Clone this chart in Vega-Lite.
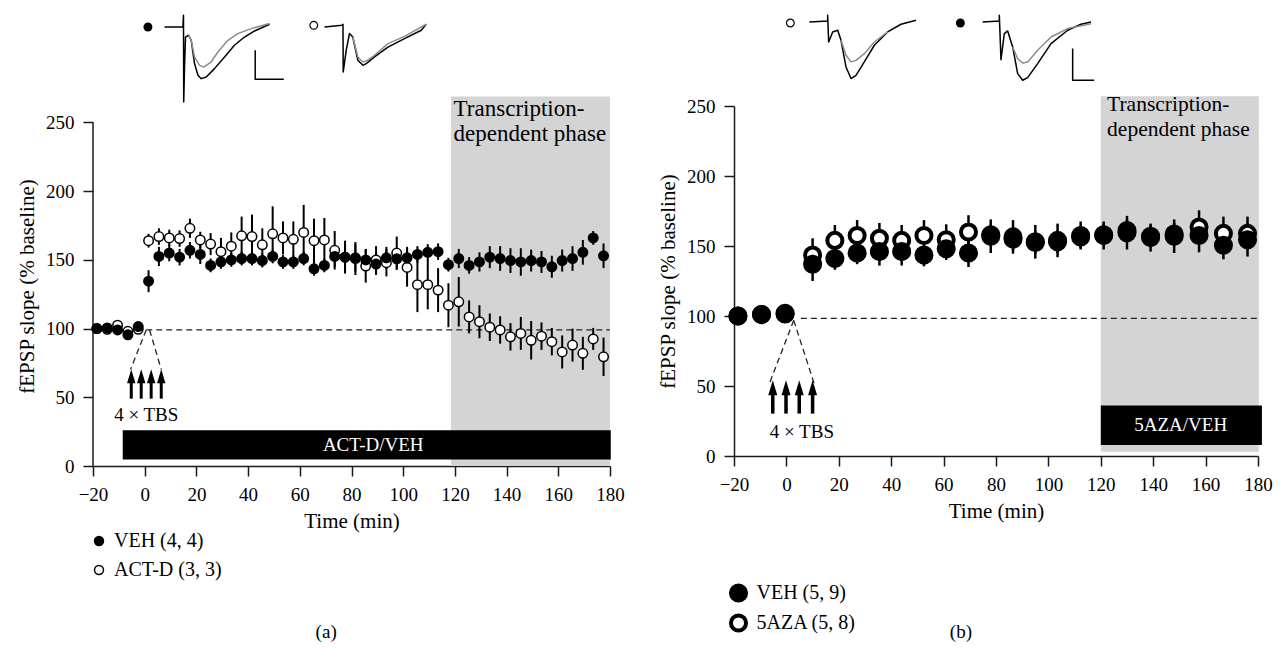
{
"$schema":"https://vega.github.io/schema/vega-lite/v6.json",
"background":"white",
"padding":{"left":16,"top":14,"right":0,"bottom":0},
"spacing":32,
"resolve":{"scale":{"fill":"independent"},"legend":{"fill":"independent"}},
"config":{
 "font":"Liberation Serif",
 "view":{"stroke":null},
 "axis":{"grid":false,"domainColor":"#1a1a1a","domainWidth":1.5,"tickColor":"#1a1a1a","tickWidth":1.5,"tickSize":10,"labelFont":"Liberation Serif","labelFontSize":19,"labelColor":"black","labelPadding":9,"labelFlush":false,"titleFont":"Liberation Serif","titleFontSize":21,"titleFontWeight":"normal","titleColor":"black"},
 "axisX":{"titlePadding":6,"tickCount":10},
 "axisY":{"titlePadding":8,"tickCount":5},
 "legend":{"labelFont":"Liberation Serif","labelFontSize":20,"labelColor":"black","symbolStrokeColor":"black","padding":0}
},
"datasets":{
 "a":[
  {"t":-18.5,"v":100,"e":2,"g":"ACT-D (3, 3)"},{"t":-14.5,"v":99.5,"e":2,"g":"ACT-D (3, 3)"},{"t":-10.5,"v":102.5,"e":2,"g":"ACT-D (3, 3)"},{"t":-6.5,"v":98,"e":2,"g":"ACT-D (3, 3)"},{"t":-2.5,"v":99.5,"e":2,"g":"ACT-D (3, 3)"},
  {"t":1.5,"v":164,"e":5,"g":"ACT-D (3, 3)"},{"t":5.5,"v":167,"e":6,"g":"ACT-D (3, 3)"},{"t":9.5,"v":166,"e":6,"g":"ACT-D (3, 3)"},{"t":13.5,"v":165.5,"e":6,"g":"ACT-D (3, 3)"},{"t":17.5,"v":173,"e":7,"g":"ACT-D (3, 3)"},{"t":21.5,"v":164.5,"e":6,"g":"ACT-D (3, 3)"},{"t":25.5,"v":161.5,"e":8,"g":"ACT-D (3, 3)"},{"t":29.5,"v":156,"e":10,"g":"ACT-D (3, 3)"},{"t":33.5,"v":160,"e":10,"g":"ACT-D (3, 3)"},{"t":37.5,"v":167.5,"e":14,"g":"ACT-D (3, 3)"},{"t":41.5,"v":167,"e":16,"g":"ACT-D (3, 3)"},{"t":45.5,"v":161,"e":12,"g":"ACT-D (3, 3)"},{"t":49.5,"v":169,"e":20,"g":"ACT-D (3, 3)"},{"t":53.5,"v":166,"e":12,"g":"ACT-D (3, 3)"},{"t":57.5,"v":165,"e":13,"g":"ACT-D (3, 3)"},{"t":61.5,"v":170,"e":20,"g":"ACT-D (3, 3)"},{"t":65.5,"v":164,"e":16,"g":"ACT-D (3, 3)"},{"t":69.5,"v":164.5,"e":16,"g":"ACT-D (3, 3)"},{"t":73.5,"v":157,"e":14,"g":"ACT-D (3, 3)"},{"t":77.5,"v":152,"e":12,"g":"ACT-D (3, 3)"},{"t":81.5,"v":151,"e":12,"g":"ACT-D (3, 3)"},{"t":85.5,"v":145.5,"e":12,"g":"ACT-D (3, 3)"},{"t":89.5,"v":150,"e":10,"g":"ACT-D (3, 3)"},{"t":93.5,"v":148,"e":10,"g":"ACT-D (3, 3)"},{"t":97.5,"v":155,"e":12,"g":"ACT-D (3, 3)"},{"t":101.5,"v":144.5,"e":14,"g":"ACT-D (3, 3)"},{"t":105.5,"v":132,"e":20,"g":"ACT-D (3, 3)"},{"t":109.5,"v":132,"e":18,"g":"ACT-D (3, 3)"},{"t":113.5,"v":128,"e":16,"g":"ACT-D (3, 3)"},{"t":117.5,"v":117,"e":16,"g":"ACT-D (3, 3)"},{"t":121.5,"v":119.5,"e":18,"g":"ACT-D (3, 3)"},{"t":125.5,"v":108.5,"e":12,"g":"ACT-D (3, 3)"},{"t":129.5,"v":105,"e":12,"g":"ACT-D (3, 3)"},{"t":133.5,"v":101,"e":10,"g":"ACT-D (3, 3)"},{"t":137.5,"v":99,"e":10,"g":"ACT-D (3, 3)"},{"t":141.5,"v":94,"e":10,"g":"ACT-D (3, 3)"},{"t":145.5,"v":96.5,"e":12,"g":"ACT-D (3, 3)"},{"t":149.5,"v":91.5,"e":14,"g":"ACT-D (3, 3)"},{"t":153.5,"v":94.5,"e":10,"g":"ACT-D (3, 3)"},{"t":157.5,"v":90.5,"e":10,"g":"ACT-D (3, 3)"},{"t":161.5,"v":83,"e":12,"g":"ACT-D (3, 3)"},{"t":165.5,"v":88,"e":12,"g":"ACT-D (3, 3)"},{"t":169.5,"v":82,"e":12,"g":"ACT-D (3, 3)"},{"t":173.5,"v":92.5,"e":8,"g":"ACT-D (3, 3)"},{"t":177.5,"v":79.5,"e":14,"g":"ACT-D (3, 3)"},
  {"t":-18.5,"v":100,"e":2,"g":"VEH (4, 4)"},{"t":-14.5,"v":100.5,"e":2,"g":"VEH (4, 4)"},{"t":-10.5,"v":99,"e":2,"g":"VEH (4, 4)"},{"t":-6.5,"v":95.5,"e":2.5,"g":"VEH (4, 4)"},{"t":-2.5,"v":101.5,"e":2.5,"g":"VEH (4, 4)"},
  {"t":1.5,"v":134.5,"e":8,"g":"VEH (4, 4)"},{"t":5.5,"v":152.5,"e":7,"g":"VEH (4, 4)"},{"t":9.5,"v":155,"e":6,"g":"VEH (4, 4)"},{"t":13.5,"v":152,"e":6,"g":"VEH (4, 4)"},{"t":17.5,"v":157,"e":6,"g":"VEH (4, 4)"},{"t":21.5,"v":154,"e":7,"g":"VEH (4, 4)"},{"t":25.5,"v":146,"e":5,"g":"VEH (4, 4)"},{"t":29.5,"v":148.5,"e":5,"g":"VEH (4, 4)"},{"t":33.5,"v":150,"e":5,"g":"VEH (4, 4)"},{"t":37.5,"v":151,"e":5,"g":"VEH (4, 4)"},{"t":41.5,"v":151,"e":5,"g":"VEH (4, 4)"},{"t":45.5,"v":149.5,"e":5,"g":"VEH (4, 4)"},{"t":49.5,"v":152.5,"e":5,"g":"VEH (4, 4)"},{"t":53.5,"v":148.5,"e":5,"g":"VEH (4, 4)"},{"t":57.5,"v":148.5,"e":5,"g":"VEH (4, 4)"},{"t":61.5,"v":151,"e":5,"g":"VEH (4, 4)"},{"t":65.5,"v":143.5,"e":5,"g":"VEH (4, 4)"},{"t":69.5,"v":146,"e":5,"g":"VEH (4, 4)"},{"t":73.5,"v":152.5,"e":8,"g":"VEH (4, 4)"},{"t":77.5,"v":152,"e":10,"g":"VEH (4, 4)"},{"t":81.5,"v":151.5,"e":10,"g":"VEH (4, 4)"},{"t":85.5,"v":150,"e":8,"g":"VEH (4, 4)"},{"t":89.5,"v":147,"e":8,"g":"VEH (4, 4)"},{"t":93.5,"v":151.5,"e":8,"g":"VEH (4, 4)"},{"t":97.5,"v":150.8,"e":8,"g":"VEH (4, 4)"},{"t":101.5,"v":151.5,"e":8,"g":"VEH (4, 4)"},{"t":105.5,"v":154,"e":6,"g":"VEH (4, 4)"},{"t":109.5,"v":155.5,"e":6,"g":"VEH (4, 4)"},{"t":113.5,"v":156,"e":6,"g":"VEH (4, 4)"},{"t":117.5,"v":146.5,"e":5,"g":"VEH (4, 4)"},{"t":121.5,"v":151,"e":7,"g":"VEH (4, 4)"},{"t":125.5,"v":146,"e":6,"g":"VEH (4, 4)"},{"t":129.5,"v":148.5,"e":7,"g":"VEH (4, 4)"},{"t":133.5,"v":152,"e":8,"g":"VEH (4, 4)"},{"t":137.5,"v":151,"e":9,"g":"VEH (4, 4)"},{"t":141.5,"v":149.5,"e":9,"g":"VEH (4, 4)"},{"t":145.5,"v":148.5,"e":10,"g":"VEH (4, 4)"},{"t":149.5,"v":149.5,"e":8,"g":"VEH (4, 4)"},{"t":153.5,"v":148.5,"e":8,"g":"VEH (4, 4)"},{"t":157.5,"v":145,"e":8,"g":"VEH (4, 4)"},{"t":161.5,"v":149.5,"e":8,"g":"VEH (4, 4)"},{"t":165.5,"v":151,"e":9,"g":"VEH (4, 4)"},{"t":169.5,"v":155.5,"e":9,"g":"VEH (4, 4)"},{"t":173.5,"v":166,"e":5,"g":"VEH (4, 4)"},{"t":177.5,"v":153,"e":9,"g":"VEH (4, 4)"}
 ],
 "b":[
  {"t":-18.5,"v":100,"e":4,"g":"5AZA (5, 8)"},{"t":-9.5,"v":101,"e":4,"g":"5AZA (5, 8)"},{"t":-0.5,"v":101.5,"e":4,"g":"5AZA (5, 8)"},
  {"t":10,"v":143.5,"e":12,"g":"5AZA (5, 8)"},{"t":18.5,"v":154,"e":11,"g":"5AZA (5, 8)"},{"t":27,"v":157.5,"e":11,"g":"5AZA (5, 8)"},{"t":35.5,"v":155.5,"e":11,"g":"5AZA (5, 8)"},{"t":44,"v":154,"e":11,"g":"5AZA (5, 8)"},{"t":52.5,"v":157.5,"e":11,"g":"5AZA (5, 8)"},{"t":61,"v":154.5,"e":11,"g":"5AZA (5, 8)"},{"t":69.5,"v":160,"e":12,"g":"5AZA (5, 8)"},{"t":78,"v":158,"e":8,"g":"5AZA (5, 8)"},{"t":86.5,"v":155,"e":8,"g":"5AZA (5, 8)"},{"t":95,"v":152.5,"e":8,"g":"5AZA (5, 8)"},{"t":103.5,"v":153,"e":8,"g":"5AZA (5, 8)"},{"t":112.3,"v":156.5,"e":8,"g":"5AZA (5, 8)"},{"t":121.1,"v":158,"e":8,"g":"5AZA (5, 8)"},{"t":130,"v":161,"e":8,"g":"5AZA (5, 8)"},{"t":139,"v":157,"e":8,"g":"5AZA (5, 8)"},{"t":148,"v":158.5,"e":8,"g":"5AZA (5, 8)"},{"t":157.5,"v":163.5,"e":12,"g":"5AZA (5, 8)"},{"t":166.8,"v":159,"e":12,"g":"5AZA (5, 8)"},{"t":176,"v":159,"e":12,"g":"5AZA (5, 8)"},
  {"t":-18.5,"v":100,"e":4,"g":"VEH (5, 9)"},{"t":-9.5,"v":101,"e":4,"g":"VEH (5, 9)"},{"t":-0.5,"v":102,"e":4,"g":"VEH (5, 9)"},
  {"t":10,"v":137,"e":12,"g":"VEH (5, 9)"},{"t":18.5,"v":141,"e":8,"g":"VEH (5, 9)"},{"t":27,"v":145,"e":8,"g":"VEH (5, 9)"},{"t":35.5,"v":146,"e":10,"g":"VEH (5, 9)"},{"t":44,"v":146,"e":10,"g":"VEH (5, 9)"},{"t":52.5,"v":143.5,"e":8,"g":"VEH (5, 9)"},{"t":61,"v":148,"e":8,"g":"VEH (5, 9)"},{"t":69.5,"v":145,"e":10,"g":"VEH (5, 9)"},{"t":78,"v":157,"e":12,"g":"VEH (5, 9)"},{"t":86.5,"v":156.5,"e":12,"g":"VEH (5, 9)"},{"t":95,"v":153,"e":12,"g":"VEH (5, 9)"},{"t":103.5,"v":154,"e":12,"g":"VEH (5, 9)"},{"t":112.3,"v":157.5,"e":10,"g":"VEH (5, 9)"},{"t":121.1,"v":157.5,"e":10,"g":"VEH (5, 9)"},{"t":130,"v":159.5,"e":12,"g":"VEH (5, 9)"},{"t":139,"v":156,"e":10,"g":"VEH (5, 9)"},{"t":148,"v":157,"e":12,"g":"VEH (5, 9)"},{"t":157.5,"v":157.5,"e":12,"g":"VEH (5, 9)"},{"t":166.8,"v":150.5,"e":10,"g":"VEH (5, 9)"},{"t":176,"v":154.5,"e":12,"g":"VEH (5, 9)"}
 ],
 "trA_k":[
  {"s":"v","i":0,"x":7.67,"y":319.5},{"s":"v","i":1,"x":14.77,"y":319.5},{"s":"v","i":2,"x":15.0,"y":328.0},{"s":"v","i":3,"x":15.1,"y":264.9},{"s":"v","i":4,"x":15.4,"y":290.4},{"s":"v","i":5,"x":15.8,"y":312.2},{"s":"v","i":6,"x":16.95,"y":313.5},{"s":"v","i":7,"x":18.0,"y":309.8},{"s":"v","i":8,"x":19.27,"y":292.9},{"s":"v","i":9,"x":20.6,"y":284.4},{"s":"v","i":10,"x":21.86,"y":281.9},{"s":"v","i":11,"x":23.8,"y":283.1},{"s":"v","i":12,"x":27.0,"y":289.2},{"s":"v","i":13,"x":30.9,"y":297.7},{"s":"v","i":14,"x":34.7,"y":306.2},{"s":"v","i":15,"x":38.6,"y":312.2},{"s":"v","i":16,"x":42.5,"y":316.6},{"s":"v","i":17,"x":48.3,"y":321.5},
  {"s":"a","i":0,"x":69.56,"y":319.5},{"s":"a","i":1,"x":76.3,"y":320.7},{"s":"a","i":2,"x":76.7,"y":321.5},{"s":"a","i":3,"x":76.8,"y":286.8},{"s":"a","i":4,"x":77.95,"y":302.5},{"s":"a","i":5,"x":79.2,"y":314.7},{"s":"a","i":6,"x":80.5,"y":312.2},{"s":"a","i":7,"x":82.46,"y":295.3},{"s":"a","i":8,"x":84.4,"y":291.6},{"s":"a","i":9,"x":85.7,"y":292.9},{"s":"a","i":10,"x":88.9,"y":297.7},{"s":"a","i":11,"x":94.1,"y":304.9},{"s":"a","i":12,"x":100.5,"y":311.0},{"s":"a","i":13,"x":107.0,"y":317.1},{"s":"a","i":14,"x":108.9,"y":321.5},
  {"s":"sb","i":0,"x":42.75,"y":302.5},{"s":"sb","i":1,"x":42.75,"y":281.4},{"s":"sb","i":2,"x":53.8,"y":281.4}
 ],
 "trA_g":[
  {"s":"v","i":0,"x":16.95,"y":313.5},{"s":"v","i":1,"x":18.0,"y":309.8},{"s":"v","i":2,"x":19.27,"y":297.7},{"s":"v","i":3,"x":21.2,"y":291.6},{"s":"v","i":4,"x":22.9,"y":290.4},{"s":"v","i":5,"x":25.7,"y":294.0},{"s":"v","i":6,"x":28.3,"y":301.3},{"s":"v","i":7,"x":32.2,"y":309.8},{"s":"v","i":8,"x":36.0,"y":314.7},{"s":"v","i":9,"x":41.2,"y":318.3},{"s":"v","i":10,"x":48.3,"y":322.0},
  {"s":"a","i":0,"x":80.5,"y":312.2},{"s":"a","i":1,"x":82.46,"y":297.7},{"s":"a","i":2,"x":84.4,"y":294.0},{"s":"a","i":3,"x":85.7,"y":294.7},{"s":"a","i":4,"x":88.9,"y":298.9},{"s":"a","i":5,"x":94.1,"y":307.4},{"s":"a","i":6,"x":100.5,"y":312.7},{"s":"a","i":7,"x":108.9,"y":321.5}
 ],
 "trB_k":[
  {"s":"z","i":0,"x":8.75,"y":310.0},{"s":"z","i":1,"x":15.75,"y":310.7},{"s":"z","i":2,"x":15.75,"y":314.8},{"s":"z","i":3,"x":16.13,"y":295.7},{"s":"z","i":4,"x":17.66,"y":302.9},{"s":"z","i":5,"x":19.57,"y":304.1},{"s":"z","i":6,"x":20.84,"y":296.9},{"s":"z","i":7,"x":22.75,"y":277.9},{"s":"z","i":8,"x":24.66,"y":269.6},{"s":"z","i":9,"x":26.56,"y":271.9},{"s":"z","i":10,"x":29.75,"y":281.5},{"s":"z","i":11,"x":33.56,"y":293.4},{"s":"z","i":12,"x":38.65,"y":302.9},{"s":"z","i":13,"x":43.74,"y":308.4},{"s":"z","i":14,"x":49.47,"y":311.2},
  {"s":"v","i":0,"x":74.9,"y":310.0},{"s":"v","i":1,"x":81.27,"y":310.7},{"s":"v","i":2,"x":81.27,"y":314.8},{"s":"v","i":3,"x":81.9,"y":283.1},{"s":"v","i":4,"x":83.18,"y":301.7},{"s":"v","i":5,"x":84.45,"y":303.6},{"s":"v","i":6,"x":86.36,"y":292.2},{"s":"v","i":7,"x":88.27,"y":273.1},{"s":"v","i":8,"x":90.18,"y":268.4},{"s":"v","i":9,"x":92.09,"y":270.3},{"s":"v","i":10,"x":95.9,"y":280.3},{"s":"v","i":11,"x":101.0,"y":294.6},{"s":"v","i":12,"x":107.35,"y":304.1},{"s":"v","i":13,"x":112.4,"y":308.4},{"s":"v","i":14,"x":116.26,"y":310.0},
  {"s":"sb","i":0,"x":109.26,"y":291.0},{"s":"sb","i":1,"x":109.26,"y":268.4},{"s":"sb","i":2,"x":117.5,"y":268.4}
 ],
 "trB_g":[
  {"s":"z","i":0,"x":20.84,"y":296.9},{"s":"z","i":1,"x":22.75,"y":286.2},{"s":"z","i":2,"x":24.66,"y":281.5},{"s":"z","i":3,"x":26.56,"y":282.6},{"s":"z","i":4,"x":29.75,"y":287.4},{"s":"z","i":5,"x":33.56,"y":295.7},{"s":"z","i":6,"x":38.65,"y":302.9},
  {"s":"v","i":0,"x":86.36,"y":292.2},{"s":"v","i":1,"x":88.27,"y":283.8},{"s":"v","i":2,"x":90.18,"y":280.7},{"s":"v","i":3,"x":92.09,"y":281.5},{"s":"v","i":4,"x":95.9,"y":289.8},{"s":"v","i":5,"x":101.0,"y":299.3},{"s":"v","i":6,"x":107.35,"y":305.3},{"s":"v","i":7,"x":116.26,"y":308.8}
 ]
},
"hconcat":[
 {
  "width":517,"height":360,
  "layer":[
   {"data":{"values":[{"x1":118.5,"x2":180,"y1":0,"y2":269}]},"mark":{"type":"rect","color":"#d4d4d4"},
    "encoding":{"x":{"field":"x1","type":"quantitative","title":"Time (min)","scale":{"domain":[-20,180],"nice":false,"zero":false}},"x2":{"field":"x2"},
     "y":{"field":"y1","type":"quantitative","title":"fEPSP slope (% baseline)","scale":{"domain":[0,262],"nice":false,"zero":false},"axis":{"tickCount":6,"domain":false}},"y2":{"field":"y2"}}},
   {"data":{"values":[{"x":-20,"y1":0,"y2":250}]},"mark":{"type":"rule","color":"#1a1a1a","strokeWidth":1.5},
    "encoding":{"x":{"field":"x","type":"quantitative","title":"Time (min)","scale":{"domain":[-20,180],"nice":false,"zero":false}},"y":{"field":"y1","type":"quantitative","title":"fEPSP slope (% baseline)","scale":{"domain":[0,262],"nice":false,"zero":false},"axis":{"tickCount":6,"domain":false}},"y2":{"field":"y2"}}},
   {"data":{"values":[{"x1":-8.5,"x2":180.3,"y1":4.7,"y2":26}]},"mark":{"type":"rect","color":"black"},
    "encoding":{"x":{"field":"x1","type":"quantitative","title":"Time (min)","scale":{"domain":[-20,180],"nice":false,"zero":false}},"x2":{"field":"x2"},"y":{"field":"y1","type":"quantitative","title":"fEPSP slope (% baseline)","scale":{"domain":[0,262],"nice":false,"zero":false},"axis":{"tickCount":6,"domain":false}},"y2":{"field":"y2"}}},
   {"data":{"values":[{"x1":0.6,"x2":180,"y":99},{"x1":0.6,"x2":-5.5,"y":99,"y2":70.2},{"x1":1.9,"x2":6.4,"y":99,"y2":70.2}]},"mark":{"type":"rule","strokeDash":[6,4],"strokeWidth":1.3,"color":"#222"},
    "encoding":{"x":{"field":"x1","type":"quantitative","title":"Time (min)","scale":{"domain":[-20,180],"nice":false,"zero":false}},"x2":{"field":"x2"},"y":{"field":"y","type":"quantitative","title":"fEPSP slope (% baseline)","scale":{"domain":[0,262],"nice":false,"zero":false},"axis":{"tickCount":6,"domain":false}},"y2":{"field":"y2"}}},
   {"data":{"values":[{"x":-5.2,"y1":49,"y2":61},{"x":-1.35,"y1":49,"y2":61},{"x":2.5,"y1":49,"y2":61},{"x":6.4,"y1":49,"y2":61}]},"mark":{"type":"rule","strokeWidth":3,"color":"black"},
    "encoding":{"x":{"field":"x","type":"quantitative","title":"Time (min)","scale":{"domain":[-20,180],"nice":false,"zero":false}},"y":{"field":"y1","type":"quantitative","title":"fEPSP slope (% baseline)","scale":{"domain":[0,262],"nice":false,"zero":false},"axis":{"tickCount":6,"domain":false}},"y2":{"field":"y2"}}},
   {"data":{"values":[{"x":-5.2,"y":65.3},{"x":-1.35,"y":65.3},{"x":2.5,"y":65.3},{"x":6.4,"y":65.3}]},"mark":{"type":"point","shape":"M-0.6,1L0,-1L0.6,1Z","size":196,"filled":true,"color":"black","opacity":1},
    "encoding":{"x":{"field":"x","type":"quantitative","title":"Time (min)","scale":{"domain":[-20,180],"nice":false,"zero":false}},"y":{"field":"y","type":"quantitative","title":"fEPSP slope (% baseline)","scale":{"domain":[0,262],"nice":false,"zero":false},"axis":{"tickCount":6,"domain":false}}}},
   {"data":{"name":"trA_k"},"mark":{"type":"line","color":"black","strokeWidth":1.5,"strokeJoin":"round"},
    "encoding":{"x":{"field":"x","type":"quantitative","title":"Time (min)","scale":{"domain":[-20,180],"nice":false,"zero":false}},"y":{"field":"y","type":"quantitative","title":"fEPSP slope (% baseline)","scale":{"domain":[0,262],"nice":false,"zero":false},"axis":{"tickCount":6,"domain":false}},"detail":{"field":"s"},"order":{"field":"i"}}},
   {"data":{"name":"trA_g"},"mark":{"type":"line","color":"#8c8c8c","strokeWidth":1.5,"strokeJoin":"round"},
    "encoding":{"x":{"field":"x","type":"quantitative","title":"Time (min)","scale":{"domain":[-20,180],"nice":false,"zero":false}},"y":{"field":"y","type":"quantitative","title":"fEPSP slope (% baseline)","scale":{"domain":[0,262],"nice":false,"zero":false},"axis":{"tickCount":6,"domain":false}},"detail":{"field":"s"},"order":{"field":"i"}}},
   {"data":{"values":[{"x":1.24,"y":319.5}]},"mark":{"type":"point","filled":true,"color":"black","size":80,"opacity":1},
    "encoding":{"x":{"field":"x","type":"quantitative","title":"Time (min)","scale":{"domain":[-20,180],"nice":false,"zero":false}},"y":{"field":"y","type":"quantitative","title":"fEPSP slope (% baseline)","scale":{"domain":[0,262],"nice":false,"zero":false},"axis":{"tickCount":6,"domain":false}}}},
   {"data":{"values":[{"x":65.4,"y":320.7}]},"mark":{"type":"point","filled":true,"fill":"white","stroke":"black","strokeWidth":1.2,"size":60,"opacity":1},
    "encoding":{"x":{"field":"x","type":"quantitative","title":"Time (min)","scale":{"domain":[-20,180],"nice":false,"zero":false}},"y":{"field":"y","type":"quantitative","title":"fEPSP slope (% baseline)","scale":{"domain":[0,262],"nice":false,"zero":false},"axis":{"tickCount":6,"domain":false}}}},
   {"data":{"name":"a"},"mark":{"type":"errorbar","thickness":2,"color":"black"},
    "encoding":{"x":{"field":"t","type":"quantitative","title":"Time (min)","scale":{"domain":[-20,180],"nice":false,"zero":false}},"y":{"field":"v","type":"quantitative","title":"fEPSP slope (% baseline)","scale":{"domain":[0,262],"nice":false,"zero":false},"axis":{"tickCount":6,"domain":false}},"yError":{"field":"e"}}},
   {"data":{"name":"a"},"mark":{"type":"point","filled":true,"stroke":"black","strokeWidth":1.5,"size":90,"opacity":1},
    "encoding":{"x":{"field":"t","type":"quantitative","title":"Time (min)","scale":{"domain":[-20,180],"nice":false,"zero":false}},"y":{"field":"v","type":"quantitative","title":"fEPSP slope (% baseline)","scale":{"domain":[0,262],"nice":false,"zero":false},"axis":{"tickCount":6,"domain":false}},
     "fill":{"field":"g","type":"nominal","scale":{"domain":["VEH (4, 4)","ACT-D (3, 3)"],"range":["black","white"]},"legend":{"title":null,"orient":"none","legendX":-4,"legendY":425,"symbolSize":80,"symbolStrokeColor":"black","symbolStrokeWidth":1.5,"rowPadding":9,"labelOffset":5}}}},
   {"data":{"values":[{"x":119.5,"y":254.4,"label":"Transcription-"},{"x":119.5,"y":236.4,"label":"dependent phase"}]},"mark":{"type":"text","align":"left","baseline":"alphabetic","fontSize":23,"color":"black"},
    "encoding":{"x":{"field":"x","type":"quantitative","title":"Time (min)","scale":{"domain":[-20,180],"nice":false,"zero":false}},"y":{"field":"y","type":"quantitative","title":"fEPSP slope (% baseline)","scale":{"domain":[0,262],"nice":false,"zero":false},"axis":{"tickCount":6,"domain":false}},"text":{"field":"label"}}},
   {"data":{"values":[{"x":0.6,"y":36.9,"label":"4 × TBS"},{"x":70.2,"y":-121,"label":"(a)"}]},"mark":{"type":"text","align":"center","baseline":"middle","fontSize":19,"color":"black"},
    "encoding":{"x":{"field":"x","type":"quantitative","title":"Time (min)","scale":{"domain":[-20,180],"nice":false,"zero":false}},"y":{"field":"y","type":"quantitative","title":"fEPSP slope (% baseline)","scale":{"domain":[0,262],"nice":false,"zero":false},"axis":{"tickCount":6,"domain":false}},"text":{"field":"label"}}},
   {"data":{"values":[{"x":88.4,"y":15,"label":"ACT-D/VEH"}]},"mark":{"type":"text","align":"center","baseline":"middle","fontSize":19,"color":"white"},
    "encoding":{"x":{"field":"x","type":"quantitative","title":"Time (min)","scale":{"domain":[-20,180],"nice":false,"zero":false}},"y":{"field":"y","type":"quantitative","title":"fEPSP slope (% baseline)","scale":{"domain":[0,262],"nice":false,"zero":false},"axis":{"tickCount":6,"domain":false}},"text":{"field":"label"}}}
  ]
 },
 {
  "width":524,"height":350,
  "layer":[
   {"data":{"values":[{"x1":120,"x2":180.3,"y1":3,"y2":257}]},"mark":{"type":"rect","color":"#d4d4d4"},
    "encoding":{"x":{"field":"x1","type":"quantitative","title":"Time (min)","scale":{"domain":[-20,180],"nice":false,"zero":false}},"x2":{"field":"x2"},
     "y":{"field":"y1","type":"quantitative","title":"fEPSP slope (% baseline)","scale":{"domain":[0,250],"nice":false,"zero":false}},"y2":{"field":"y2"}}},
   {"data":{"values":[{"x1":120,"x2":181.5,"y1":7.9,"y2":36}]},"mark":{"type":"rect","color":"black"},
    "encoding":{"x":{"field":"x1","type":"quantitative","title":"Time (min)","scale":{"domain":[-20,180],"nice":false,"zero":false}},"x2":{"field":"x2"},"y":{"field":"y1","type":"quantitative","title":"fEPSP slope (% baseline)","scale":{"domain":[0,250],"nice":false,"zero":false}},"y2":{"field":"y2"}}},
   {"data":{"values":[{"x1":5.5,"x2":180,"y":98.3},{"x1":2.8,"x2":-6.5,"y":96.9,"y2":51.7},{"x1":2.8,"x2":10.6,"y":96.9,"y2":51.7}]},"mark":{"type":"rule","strokeDash":[6,4],"strokeWidth":1.3,"color":"#222"},
    "encoding":{"x":{"field":"x1","type":"quantitative","title":"Time (min)","scale":{"domain":[-20,180],"nice":false,"zero":false}},"x2":{"field":"x2"},"y":{"field":"y","type":"quantitative","title":"fEPSP slope (% baseline)","scale":{"domain":[0,250],"nice":false,"zero":false}},"y2":{"field":"y2"}}},
   {"data":{"values":[{"x":-5.2,"y1":30.3,"y2":44},{"x":-0.15,"y1":30.3,"y2":44},{"x":4.9,"y1":30.3,"y2":44},{"x":10,"y1":30.3,"y2":44}]},"mark":{"type":"rule","strokeWidth":3.5,"color":"black"},
    "encoding":{"x":{"field":"x","type":"quantitative","title":"Time (min)","scale":{"domain":[-20,180],"nice":false,"zero":false}},"y":{"field":"y1","type":"quantitative","title":"fEPSP slope (% baseline)","scale":{"domain":[0,250],"nice":false,"zero":false}},"y2":{"field":"y2"}}},
   {"data":{"values":[{"x":-5.2,"y":48.7},{"x":-0.15,"y":48.7},{"x":4.9,"y":48.7},{"x":10,"y":48.7}]},"mark":{"type":"point","shape":"M-0.6,1L0,-1L0.6,1Z","size":225,"filled":true,"color":"black","opacity":1},
    "encoding":{"x":{"field":"x","type":"quantitative","title":"Time (min)","scale":{"domain":[-20,180],"nice":false,"zero":false}},"y":{"field":"y","type":"quantitative","title":"fEPSP slope (% baseline)","scale":{"domain":[0,250],"nice":false,"zero":false}}}},
   {"data":{"name":"trB_k"},"mark":{"type":"line","color":"black","strokeWidth":1.5,"strokeJoin":"round"},
    "encoding":{"x":{"field":"x","type":"quantitative","title":"Time (min)","scale":{"domain":[-20,180],"nice":false,"zero":false}},"y":{"field":"y","type":"quantitative","title":"fEPSP slope (% baseline)","scale":{"domain":[0,250],"nice":false,"zero":false}},"detail":{"field":"s"},"order":{"field":"i"}}},
   {"data":{"name":"trB_g"},"mark":{"type":"line","color":"#8c8c8c","strokeWidth":1.5,"strokeJoin":"round"},
    "encoding":{"x":{"field":"x","type":"quantitative","title":"Time (min)","scale":{"domain":[-20,180],"nice":false,"zero":false}},"y":{"field":"y","type":"quantitative","title":"fEPSP slope (% baseline)","scale":{"domain":[0,250],"nice":false,"zero":false}},"detail":{"field":"s"},"order":{"field":"i"}}},
   {"data":{"values":[{"x":66.4,"y":309.3}]},"mark":{"type":"point","filled":true,"color":"black","size":80,"opacity":1},
    "encoding":{"x":{"field":"x","type":"quantitative","title":"Time (min)","scale":{"domain":[-20,180],"nice":false,"zero":false}},"y":{"field":"y","type":"quantitative","title":"fEPSP slope (% baseline)","scale":{"domain":[0,250],"nice":false,"zero":false}}}},
   {"data":{"values":[{"x":1.5,"y":309.3}]},"mark":{"type":"point","filled":true,"fill":"white","stroke":"black","strokeWidth":1.2,"size":60,"opacity":1},
    "encoding":{"x":{"field":"x","type":"quantitative","title":"Time (min)","scale":{"domain":[-20,180],"nice":false,"zero":false}},"y":{"field":"y","type":"quantitative","title":"fEPSP slope (% baseline)","scale":{"domain":[0,250],"nice":false,"zero":false}}}},
   {"data":{"name":"b"},"mark":{"type":"errorbar","thickness":2.5,"color":"black"},
    "encoding":{"x":{"field":"t","type":"quantitative","title":"Time (min)","scale":{"domain":[-20,180],"nice":false,"zero":false}},"y":{"field":"v","type":"quantitative","title":"fEPSP slope (% baseline)","scale":{"domain":[0,250],"nice":false,"zero":false}},"yError":{"field":"e"}}},
   {"data":{"name":"b"},"mark":{"type":"point","filled":true,"stroke":"black","strokeWidth":4,"size":227,"opacity":1},
    "encoding":{"x":{"field":"t","type":"quantitative","title":"Time (min)","scale":{"domain":[-20,180],"nice":false,"zero":false}},"y":{"field":"v","type":"quantitative","title":"fEPSP slope (% baseline)","scale":{"domain":[0,250],"nice":false,"zero":false}},
     "fill":{"field":"g","type":"nominal","scale":{"domain":["VEH (5, 9)","5AZA (5, 8)"],"range":["black","white"]},"legend":{"title":null,"orient":"none","legendX":-5.5,"legendY":477,"symbolSize":227,"symbolStrokeColor":"black","symbolStrokeWidth":4,"rowPadding":-2,"labelOffset":8}}}},
   {"data":{"values":[{"x":122.4,"y":246.6,"label":"Transcription-"},{"x":122.4,"y":228.5,"label":"dependent phase"}]},"mark":{"type":"text","align":"left","baseline":"alphabetic","fontSize":21.5,"color":"black"},
    "encoding":{"x":{"field":"x","type":"quantitative","title":"Time (min)","scale":{"domain":[-20,180],"nice":false,"zero":false}},"y":{"field":"y","type":"quantitative","title":"fEPSP slope (% baseline)","scale":{"domain":[0,250],"nice":false,"zero":false}},"text":{"field":"label"}}},
   {"data":{"values":[{"x":5.9,"y":16.9,"label":"4 × TBS"},{"x":66.6,"y":-125.7,"label":"(b)"}]},"mark":{"type":"text","align":"center","baseline":"middle","fontSize":19,"color":"black"},
    "encoding":{"x":{"field":"x","type":"quantitative","title":"Time (min)","scale":{"domain":[-20,180],"nice":false,"zero":false}},"y":{"field":"y","type":"quantitative","title":"fEPSP slope (% baseline)","scale":{"domain":[0,250],"nice":false,"zero":false}},"text":{"field":"label"}}},
   {"data":{"values":[{"x":150.5,"y":22,"label":"5AZA/VEH"}]},"mark":{"type":"text","align":"center","baseline":"middle","fontSize":19,"color":"white"},
    "encoding":{"x":{"field":"x","type":"quantitative","title":"Time (min)","scale":{"domain":[-20,180],"nice":false,"zero":false}},"y":{"field":"y","type":"quantitative","title":"fEPSP slope (% baseline)","scale":{"domain":[0,250],"nice":false,"zero":false}},"text":{"field":"label"}}}
  ]
 }
]
}
